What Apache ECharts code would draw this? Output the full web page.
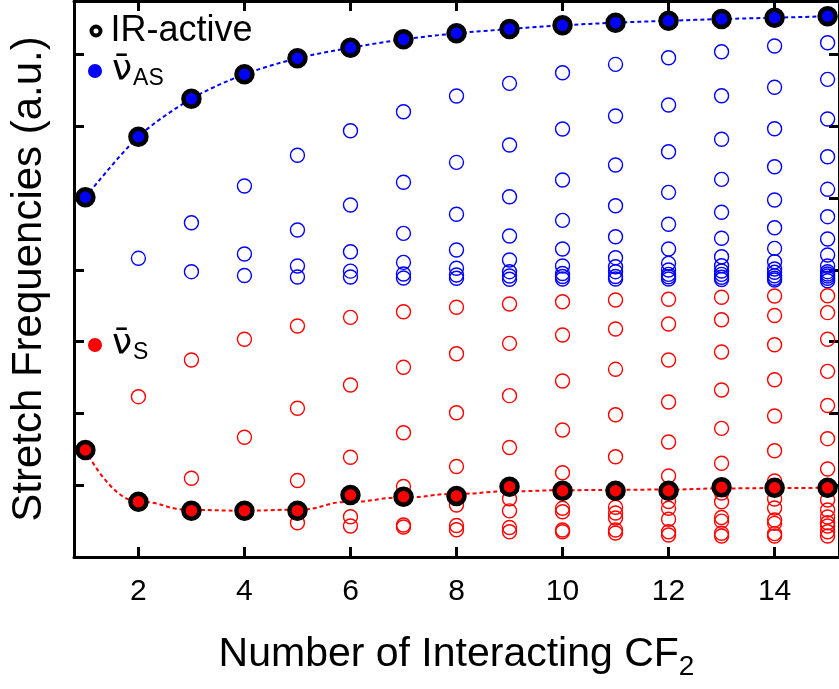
<!DOCTYPE html>
<html><head><meta charset="utf-8">
<script src="https://cdn.jsdelivr.net/npm/echarts@6/dist/echarts.min.js"></script>
<style>html,body{margin:0;padding:0;background:#fff}#c{width:839px;height:689px}</style>
</head><body><div id="c"></div>
<script>
// Number of interacting CF2 groups
const nCF2 = [1,2,3,4,5,6,7,8,9,10,11,12,13,14,15];
const xTickValues = [2,4,6,8,10,12,14];
const yTickValues = [1,2,3,4,5,6,7];

// IR-active modes (filled markers)
const asIR = [5.01,5.854,6.383,6.723,6.946,7.093,7.21,7.294,7.354,7.405,7.442,7.469,7.493,7.511,7.531];
const sIR  = [1.49,0.77,0.645,0.645,0.645,0.864,0.84,0.85,0.979,0.923,0.923,0.923,0.971,0.965,0.965];

// Dashed guide curves
const asFit = [5.01,5.854,6.383,6.723,6.946,7.093,7.21,7.294,7.354,7.405,7.442,7.469,7.493,7.511,7.531];
const sFit  = [1.49,0.77,0.655,0.645,0.66,0.77,0.83,0.88,0.915,0.93,0.935,0.94,0.955,0.96,0.965];

// Other (IR-inactive) modes, one list per N = 2..15
const asOther = [
  [4.160],
  [4.656,3.974],
  [5.167,4.220,3.921],
  [5.595,4.554,4.053,3.900],
  [5.937,4.903,4.252,3.981,3.900],
  [6.202,5.219,4.508,4.104,3.942,3.886],
  [6.421,5.497,4.773,4.276,4.021,3.928,3.882],
  [6.597,5.738,5.018,4.471,4.136,3.974,3.914,3.868],
  [6.745,5.961,5.251,4.689,4.290,4.053,3.948,3.907,3.872],
  [6.862,6.142,5.460,4.893,4.461,4.169,4.043,3.974,3.907,3.872],
  [6.954,6.295,5.645,5.079,4.634,4.290,4.090,3.997,3.937,3.904,3.872],
  [7.038,6.425,5.818,5.260,4.801,4.439,4.182,4.057,3.983,3.937,3.896,3.865],
  [7.117,6.542,5.965,5.436,4.972,4.586,4.299,4.113,4.011,3.965,3.918,3.882,3.858],
  [7.163,6.653,6.100,5.575,5.121,4.740,4.429,4.206,4.053,3.974,3.942,3.914,3.882,3.848]
];
const sOther = [
  [2.233],
  [2.744,1.096],
  [3.032,1.667],
  [3.217,2.071,1.065,0.478],
  [3.338,2.396,1.389,0.561,0.432],
  [3.416,2.642,1.731,0.982,0.446,0.418],
  [3.479,2.831,2.010,1.260,0.724,0.439,0.380],
  [3.524,2.976,2.247,1.525,0.811,0.643,0.411,0.352],
  [3.556,3.092,2.451,1.769,1.174,0.678,0.631,0.376,0.352],
  [3.579,3.175,2.614,1.982,1.397,0.692,0.613,0.543,0.376,0.334],
  [3.589,3.245,2.744,2.159,1.602,1.128,0.773,0.678,0.525,0.352,0.306],
  [3.617,3.305,2.855,2.326,1.792,1.305,0.891,0.770,0.550,0.499,0.330,0.292],
  [3.635,3.364,2.957,2.469,1.964,1.479,1.058,0.808,0.682,0.515,0.469,0.325,0.292],
  [3.639,3.403,3.032,2.586,2.110,1.648,1.226,0.794,0.655,0.557,0.478,0.432,0.352,0.292]
];

const FONT = '"Liberation Sans", Arial, Helvetica, sans-serif';
const BLUE = '#0000ff', RED = '#ff0000';

function pairs(xs, ys){ return xs.map((x,i)=>[x, ys[i]]); }
function flatten(lists){ const out=[]; lists.forEach((l,i)=>l.forEach(v=>out.push([i+2, v]))); return out; }

const chart = echarts.init(document.getElementById('c'), null, {renderer:'canvas'});

const openStyle = c => ({color:'rgba(0,0,0,0)', borderColor:c, borderWidth:1.4, opacity:1});
const irStyle = c => ({color:c, borderColor:'#000', borderWidth:4.5, opacity:1});

const legendText = {fontFamily:FONT, fontSize:36, color:'#000',
  rich:{ nu:{fontFamily:'"DejaVu Sans", ' + FONT, fontSize:36, color:'#000', lineHeight:40, padding:[0,0,0,5]},
         sub:{fontFamily:FONT, fontSize:23, color:'#000', padding:[16,0,0,1]},
         t:{fontFamily:FONT, fontSize:36, color:'#000', lineHeight:40, padding:[0,0,0,5]} } };

function legendFmt(name){
  if (name === 'AS') return '{nu|\u03bd\u0304}{sub|AS}';
  if (name === 'S') return '{nu|\u03bd\u0304}{sub|S}';
  return '{t|' + name + '}';
}

const axisLine = {show:true, onZero:false, lineStyle:{color:'#000', width:3}};
const tick = vals => ({show:true, inside:true, length:10, lineStyle:{color:'#000', width:3}, customValues: vals});

chart.setOption({
  animation:false,
  backgroundColor:'#fff',
  grid:{left:70, top:1, width:772, height:556, containLabel:false},
  legend:[
    {data:[{name:'IR-active', itemStyle:{color:'#fff', borderColor:'#000', borderWidth:4}}],
     left:89.5, top:13, padding:0, itemWidth:9, itemHeight:9,
     textStyle:legendText, formatter:legendFmt, selectedMode:false},
    {data:[{name:'AS', itemStyle:{color:BLUE, borderWidth:0}}], left:88, top:53, padding:0, itemWidth:14, itemHeight:14,
     textStyle:legendText, formatter:legendFmt, selectedMode:false},
    {data:[{name:'S', itemStyle:{color:RED, borderWidth:0}}], left:88, top:327, padding:0, itemWidth:14, itemHeight:14,
     textStyle:legendText, formatter:legendFmt, selectedMode:false}
  ],
  xAxis:[
    {type:'value', min:0.785, max:15.215, position:'bottom',
     axisLine, axisTick:tick(xTickValues), splitLine:{show:false},
     axisLabel:{show:true, customValues:xTickValues, fontFamily:FONT, fontSize:30, color:'#000', margin:20},
     name:'{a|Number of Interacting CF}{b|2}', nameLocation:'middle', nameGap:72,
     nameTextStyle:{rich:{a:{fontFamily:FONT, fontSize:41, color:'#000'}, b:{fontFamily:FONT, fontSize:28, color:'#000', padding:[24,0,0,0]}}}},
    {type:'value', min:0.785, max:15.215, position:'top',
     axisLine, axisTick:tick(xTickValues), axisLabel:{show:false}, splitLine:{show:false}}
  ],
  yAxis:[
    {type:'value', min:0, max:7.744, position:'left',
     axisLine, axisTick:tick(yTickValues), axisLabel:{show:false}, splitLine:{show:false},
     name:'Stretch Frequencies (a.u.)', nameLocation:'middle', nameGap:24, nameRotate:90,
     nameTextStyle:{fontFamily:FONT, fontSize:42, color:'#000'}},
    {type:'value', min:0, max:7.744, position:'right',
     axisLine, axisTick:tick(yTickValues), axisLabel:{show:false}, splitLine:{show:false}}
  ],
  series:[
    {name:'asFit', type:'line', data:pairs(nCF2, asFit), smooth:0.3, showSymbol:false, symbol:'none',
     lineStyle:{color:BLUE, width:2, type:[4,3]}, z:2, silent:true},
    {name:'sFit', type:'line', data:pairs(nCF2, sFit), smooth:0.5, smoothMonotone:'x', showSymbol:false, symbol:'none',
     lineStyle:{color:RED, width:2, type:[4,3]}, z:2, silent:true},
    {name:'asOther', type:'scatter', data:flatten(asOther), symbol:'circle', symbolSize:14, itemStyle:openStyle(BLUE), z:3},
    {name:'sOther', type:'scatter', data:flatten(sOther), symbol:'circle', symbolSize:14, itemStyle:openStyle(RED), z:3},
    {name:'asIRpts', type:'scatter', data:pairs(nCF2, asIR), symbol:'circle', symbolSize:16, itemStyle:irStyle(BLUE), z:5},
    {name:'sIRpts', type:'scatter', data:pairs(nCF2, sIR), symbol:'circle', symbolSize:16, itemStyle:irStyle(RED), z:5},
    {name:'IR-active', type:'scatter', data:[], symbol:'circle', itemStyle:{color:'#fff', borderColor:'#000', borderWidth:4, opacity:1}},
    {name:'AS', type:'scatter', data:[], symbol:'circle', itemStyle:{color:BLUE, opacity:1}},
    {name:'S', type:'scatter', data:[], symbol:'circle', itemStyle:{color:RED, opacity:1}}
  ]
});
</script>
</body></html>
